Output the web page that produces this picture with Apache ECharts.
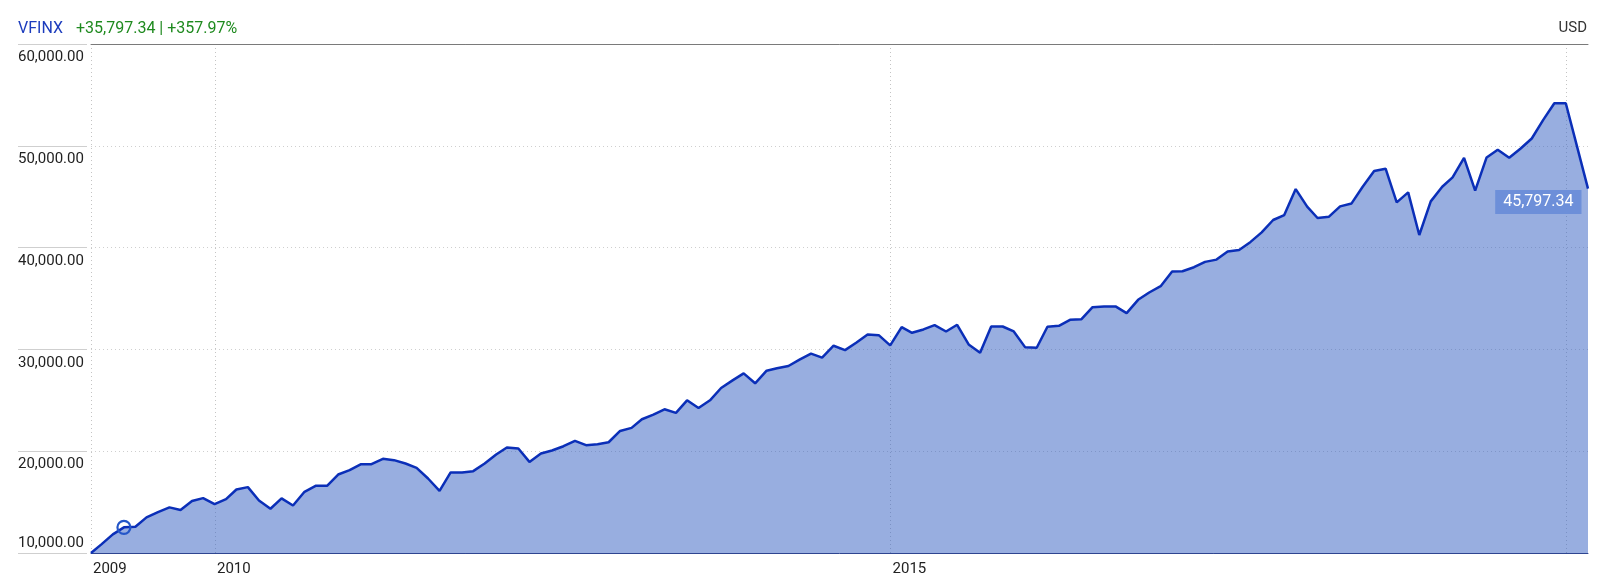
<!DOCTYPE html>
<html><head><meta charset="utf-8">
<script src="https://cdn.jsdelivr.net/npm/echarts@6/dist/echarts.min.js"></script>
<style>html,body{margin:0;padding:0;background:#fff}#c{width:1600px;height:585px}</style>
</head><body><div id="c"></div><script>
const ticker = 'VFINX';
const changeText = '+35,797.34 | +357.97%';
const currency = 'USD';

const dates = [
'2009-01-31','2009-02-28','2009-03-31','2009-04-30','2009-05-31','2009-06-30','2009-07-31','2009-08-31','2009-09-30','2009-10-31','2009-11-30','2009-12-31',
'2010-01-31','2010-02-28','2010-03-31','2010-04-30','2010-05-31','2010-06-30','2010-07-31','2010-08-31','2010-09-30','2010-10-31','2010-11-30','2010-12-31',
'2011-01-31','2011-02-28','2011-03-31','2011-04-30','2011-05-31','2011-06-30','2011-07-31','2011-08-31','2011-09-30','2011-10-31','2011-11-30','2011-12-31',
'2012-01-31','2012-02-29','2012-03-31','2012-04-30','2012-05-31','2012-06-30','2012-07-31','2012-08-31','2012-09-30','2012-10-31','2012-11-30','2012-12-31',
'2013-01-31','2013-02-28','2013-03-31','2013-04-30','2013-05-31','2013-06-30','2013-07-31','2013-08-31','2013-09-30','2013-10-31','2013-11-30','2013-12-31',
'2014-01-31','2014-02-28','2014-03-31','2014-04-30','2014-05-31','2014-06-30','2014-07-31','2014-08-31','2014-09-30','2014-10-31','2014-11-30','2014-12-31',
'2015-01-31','2015-02-28','2015-03-31','2015-04-30','2015-05-31','2015-06-30','2015-07-31','2015-08-31','2015-09-30','2015-10-31','2015-11-30','2015-12-31',
'2016-01-31','2016-02-29','2016-03-31','2016-04-30','2016-05-31','2016-06-30','2016-07-31','2016-08-31','2016-09-30','2016-10-31','2016-11-30','2016-12-31',
'2017-01-31','2017-02-28','2017-03-31','2017-04-30','2017-05-31','2017-06-30','2017-07-31','2017-08-31','2017-09-30','2017-10-31','2017-11-30','2017-12-31',
'2018-01-31','2018-02-28','2018-03-31','2018-04-30','2018-05-31','2018-06-30','2018-07-31','2018-08-31','2018-09-30','2018-10-31','2018-11-30','2018-12-31',
'2019-01-31','2019-02-28','2019-03-31','2019-04-30','2019-05-31','2019-06-30','2019-07-31','2019-08-31','2019-09-30','2019-10-31','2019-11-30','2019-12-31',
'2020-01-31','2020-02-29'
];

const values = [
10000,10850,11830,12520,12580,13500,14020,14480,14220,15100,15390,14800,
15290,16240,16470,15160,14350,15360,14670,16010,16600,16600,17710,18140,
18730,18730,19250,19120,18790,18370,17320,16110,17910,17910,18040,18790,
19670,20360,20260,18950,19770,20070,20490,21010,20590,20690,20880,21990,
22290,23140,23600,24120,23760,25000,24250,25000,26210,26960,27650,26670,
27910,28140,28370,28990,29580,29190,30360,29930,30650,31470,31400,30390,
32190,31630,31960,32390,31760,32420,30490,29670,32250,32250,31760,30200,
30160,32220,32320,32910,32970,34150,34220,34220,33560,34870,35590,36210,
37650,37680,38070,38600,38820,39610,39770,40560,41500,42710,43200,45750,
44020,42910,43040,44050,44340,45980,47520,47750,44440,45420,41240,44540,
45980,46900,48820,45590,48860,49610,48820,49740,50720,52550,54180,54180,
49840,45797.34
];

const yMin = 10000, yMax = 60000, yStep = 10000;
const xGridDates = [dates[0], '2010-01-01', '2015-01-01', '2020-01-01'];
const xLabelDates = [dates[0], '2010-01-01', '2015-01-01'];
const markerIndex = 3;

const FONT = "Roboto,'Liberation Sans',sans-serif";
const fmt = v => Number(v).toLocaleString('en-US', {minimumFractionDigits: 2, maximumFractionDigits: 2});
const ts = d => Date.parse(d + 'T00:00:00Z');
const last = values.length - 1;
const xs = dates.map(ts);

const chart = echarts.init(document.getElementById('c'), null, {renderer: 'canvas'});
chart.setOption({
  animation: false,
  backgroundColor: '#fff',
  textStyle: {fontFamily: FONT},
  title: [
    {text: ticker, left: 18, top: 21, padding: 0, textStyle: {fontFamily: FONT, fontSize: 16, fontWeight: 'normal', color: '#1c3cbd'}},
    {text: changeText, left: 76, top: 21, padding: 0, textStyle: {fontFamily: FONT, fontSize: 16, fontWeight: 'normal', color: '#1f8a1f'}},
    {text: currency, right: 13, top: 21, padding: 0, textStyle: {fontFamily: FONT, fontSize: 15, fontWeight: 'normal', color: '#333'}}
  ],
  grid: {left: 91, right: 12, top: 44, bottom: 32, containLabel: false},
  xAxis: [{
    type: 'value',
    min: xs[0], max: xs[last], scale: true,
    axisLine: {show: true, onZero: false, lineStyle: {color: '#2e4590', width: 1}},
    axisTick: {show: false, customValues: xGridDates.map(ts)},
    axisLabel: {
      show: true, customValues: xLabelDates.map(ts), align: 'left', margin: 9, padding: [0, 0, 0, 2],
      fontFamily: FONT, fontSize: 15, color: '#222', hideOverlap: false, showMinLabel: true, showMaxLabel: true,
      formatter: v => String(new Date(v).getUTCFullYear())
    },
    splitLine: {show: true, lineStyle: {color: '#c4c4c4', type: [1, 3], width: 1}}
  }, {
    type: 'value', position: 'top',
    min: xs[0], max: xs[last], scale: true,
    axisLine: {show: true, onZero: false, lineStyle: {color: '#7a7a7a', width: 1}},
    axisTick: {show: false}, axisLabel: {show: false}, splitLine: {show: false}
  }],
  yAxis: [{
    type: 'value', min: yMin, max: yMax, interval: yStep, position: 'left', offset: 4,
    axisLine: {show: false},
    axisTick: {show: true, length: 69, lineStyle: {color: '#cfcfcf', width: 1}},
    axisLabel: {
      show: true, align: 'left', margin: 69, verticalAlign: 'top', padding: [6, 0, 0, 0],
      fontFamily: FONT, fontSize: 15, color: '#222',
      formatter: v => v === yMin ? '' : fmt(v)
    },
    splitLine: {show: true, lineStyle: {color: '#cfcfcf', type: [1, 3], width: 1}}
  }, {
    type: 'value', min: yMin, max: yMax, interval: yStep, position: 'left', offset: 4,
    axisLine: {show: false}, axisTick: {show: false}, splitLine: {show: false},
    axisLabel: {
      show: true, align: 'left', margin: 69, verticalAlign: 'bottom', padding: [0, 0, 2, 0],
      fontFamily: FONT, fontSize: 15, color: '#222',
      formatter: v => v === yMin ? fmt(v) : ''
    }
  }],
  series: [{
    type: 'line',
    xAxisIndex: 0, yAxisIndex: 0,
    data: xs.map((x, i) => [x, values[i]]),
    showSymbol: false, symbol: 'none',
    lineStyle: {color: '#0b2fb8', width: 2.5},
    areaStyle: {color: 'rgb(49,93,193)', opacity: 0.5, origin: 'start'},
    markPoint: {
      silent: true,
      data: [
        {coord: [xs[markerIndex], values[markerIndex]], symbol: 'circle', symbolSize: 13,
         itemStyle: {color: 'rgba(0,0,0,0)', borderColor: '#2456c8', borderWidth: 2.2},
         label: {show: false}},
        {coord: [xs[last], values[last]], symbol: 'rect', symbolSize: 1,
         itemStyle: {color: 'rgba(0,0,0,0)'},
         label: {show: true, formatter: fmt(values[last]), position: [-6, 2], align: 'right', verticalAlign: 'top',
           fontFamily: FONT, fontSize: 16, lineHeight: 18, color: '#fff',
           backgroundColor: '#6d8fd9', padding: [3, 8, 3, 8]}}
      ]
    }
  }]
});
</script></body></html>
